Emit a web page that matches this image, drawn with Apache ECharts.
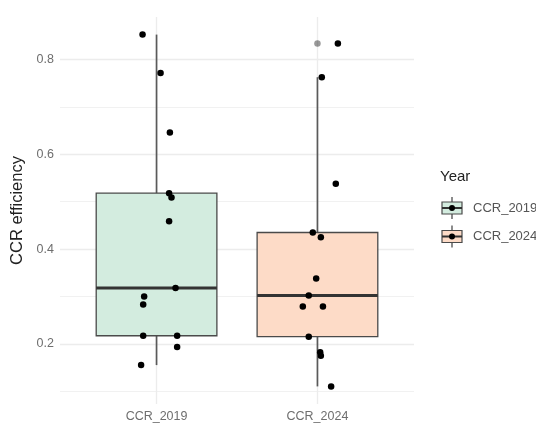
<!DOCTYPE html>
<html>
<head>
<meta charset="utf-8">
<script src="https://cdn.jsdelivr.net/npm/echarts@6/dist/echarts.min.js"></script>
<style>
  html, body { margin: 0; padding: 0; background: #ffffff; }
  #chart { width: 536px; height: 425px; }
</style>
</head>
<body>
<div id="chart"></div>
<script>
// ---- data ----
const categories = ['CCR_2019', 'CCR_2024'];
const values2019 = [0.853, 0.772, 0.646, 0.518, 0.509, 0.459, 0.318, 0.300, 0.283, 0.217, 0.217, 0.193, 0.155];
const values2024 = [0.834, 0.763, 0.538, 0.435, 0.425, 0.338, 0.302, 0.279, 0.279, 0.215, 0.182, 0.175, 0.110];
// horizontal jitter of each point, in category units
const jitter2019 = [-0.087, 0.025, 0.083, 0.078, 0.093, 0.078, 0.118, -0.077, -0.083, -0.083, 0.128, 0.128, -0.096];
const jitter2024 = [0.127, 0.027, 0.114, -0.029, 0.021, -0.008, -0.054, -0.091, 0.034, -0.054, 0.017, 0.021, 0.085];
const yMajorTicks = [0.2, 0.4, 0.6, 0.8];
const yMinorTicks = [0.1, 0.3, 0.5, 0.7];
const legendTitle = 'Year';
const yTitle = 'CCR efficiency';

// ---- styles ----
const FILLS = ['#d3ecdf', '#fddbc7'];
const BOX_WIDTH = 0.75;
const GRID_COLOR = '#ececec';
const FONT = '"Liberation Sans", Arial, sans-serif';

// ---- boxplot statistics (quantile type 7, 1.5 IQR whiskers) ----
function quantile(sorted, p) {
  const h = (sorted.length - 1) * p;
  const lo = Math.floor(h);
  const hiV = lo + 1 < sorted.length ? sorted[lo + 1] : sorted[lo];
  return sorted[lo] + (h - lo) * (hiV - sorted[lo]);
}
function boxStats(vals) {
  const s = vals.slice().sort((a, b) => a - b);
  const q1 = quantile(s, 0.25), med = quantile(s, 0.5), q3 = quantile(s, 0.75);
  const iqr = q3 - q1;
  const inside = s.filter(v => v >= q1 - 1.5 * iqr && v <= q3 + 1.5 * iqr);
  const outliers = s.filter(v => v < q1 - 1.5 * iqr || v > q3 + 1.5 * iqr);
  return { lo: inside[0], q1, med, q3, hi: inside[inside.length - 1], outliers };
}

const groups = [values2019, values2024];
const jitters = [jitter2019, jitter2024];
const stats = groups.map(boxStats);

const boxData = stats.map((st, i) => [i, st.lo, st.q1, st.med, st.q3, st.hi]);
const outlierData = [];
stats.forEach((st, i) => st.outliers.forEach(v => outlierData.push([i, v])));
const pointData = [];
groups.forEach((vals, i) => vals.forEach((v, k) => pointData.push([i + jitters[i][k], v])));

const allVals = values2019.concat(values2024);
const dMin = Math.min.apply(null, allVals), dMax = Math.max.apply(null, allVals);
const pad = (dMax - dMin) * 0.05;
const yMin = dMin - pad, yMax = dMax + pad;

const gridLines = []
  .concat(yMinorTicks.map(v => ({ yAxis: v, lineStyle: { color: '#f1f1f1', width: 1, type: 'solid' } })))
  .concat(yMajorTicks.map(v => ({ yAxis: v, lineStyle: { color: GRID_COLOR, width: 1.3, type: 'solid' } })))
  .concat(categories.map((c, i) => ({ xAxis: i, lineStyle: { color: GRID_COLOR, width: 1.3, type: 'solid' } })));

const chart = echarts.init(document.getElementById('chart'), null, { renderer: 'canvas' });

// legend keys drawn in the ggplot boxplot-key style
function legendKey(cy, fill) {
  const x0 = 442, w = 20, h = 12, cx = x0 + w / 2;
  return [
    { type: 'line', shape: { x1: cx, y1: cy - 11, x2: cx, y2: cy + 11 }, style: { stroke: '#5a5a5a', lineWidth: 1.4 } },
    { type: 'rect', shape: { x: x0, y: cy - h / 2, width: w, height: h }, style: { fill: fill, stroke: '#4a4a4a', lineWidth: 1.2 } },
    { type: 'line', shape: { x1: x0, y1: cy, x2: x0 + w, y2: cy }, style: { stroke: '#333', lineWidth: 2 } },
    { type: 'circle', shape: { cx: cx, cy: cy, r: 3 }, style: { fill: '#000' } }
  ];
}
const legendRows = categories.map((c, i) => {
  const cy = 208 + i * 28.5;
  return legendKey(cy, FILLS[i]).concat([{
    type: 'text', style: { x: 473, y: cy, text: c, fill: '#555', font: '13px ' + FONT, textVerticalAlign: 'middle' }
  }]);
});

chart.setOption({
  animation: false,
  backgroundColor: '#ffffff',
  grid: { left: 60, right: 122, top: 17, bottom: 21, containLabel: false },
  xAxis: {
    type: 'value', min: -0.6, max: 1.6,
    axisLine: { show: false }, axisTick: { show: false }, splitLine: { show: false },
    axisLabel: {
      margin: 6, color: '#6e6e6e', fontSize: 12.5, fontFamily: FONT,
      showMinLabel: false, showMaxLabel: false,
      formatter: v => {
        const i = Math.round(v);
        return (Math.abs(v - i) < 1e-6 && categories[i]) ? categories[i] : '';
      }
    }
  },
  yAxis: {
    type: 'value', min: yMin, max: yMax,
    name: yTitle, nameLocation: 'middle', nameGap: 34,
    nameTextStyle: { color: '#222', fontSize: 16.5, fontFamily: FONT },
    axisLine: { show: false }, axisTick: { show: false }, splitLine: { show: false },
    axisLabel: {
      margin: 6, color: '#6e6e6e', fontSize: 12.5, fontFamily: FONT,
      showMinLabel: false, showMaxLabel: false,
      formatter: v => {
        const hit = yMajorTicks.find(t => Math.abs(t - v) < 1e-6);
        return hit !== undefined ? hit.toFixed(1) : '';
      }
    }
  },
  series: [
    {
      type: 'line', data: [], z: 1, silent: true,
      markLine: { silent: true, symbol: 'none', z: 1, label: { show: false }, animation: false, data: gridLines }
    },
    {
      type: 'custom', z: 2, silent: true,
      encode: { x: 0, y: [1, 2, 3, 4, 5] },
      data: boxData,
      renderItem: (params, api) => {
        const c = api.value(0);
        const lo = api.value(1), q1 = api.value(2), med = api.value(3), q3 = api.value(4), hi = api.value(5);
        const half = BOX_WIDTH / 2;
        const tl = api.coord([c - half, q3]);
        const br = api.coord([c + half, q1]);
        const mL = api.coord([c - half, med]), mR = api.coord([c + half, med]);
        const pHi = api.coord([c, hi]), pQ3 = api.coord([c, q3]);
        const pQ1 = api.coord([c, q1]), pLo = api.coord([c, lo]);
        return {
          type: 'group',
          children: [
            { type: 'line', shape: { x1: pHi[0], y1: pHi[1], x2: pQ3[0], y2: pQ3[1] }, style: { stroke: '#5a5a5a', lineWidth: 1.7 } },
            { type: 'line', shape: { x1: pQ1[0], y1: pQ1[1], x2: pLo[0], y2: pLo[1] }, style: { stroke: '#5a5a5a', lineWidth: 1.7 } },
            { type: 'rect', shape: { x: tl[0], y: tl[1], width: br[0] - tl[0], height: br[1] - tl[1] },
              style: { fill: FILLS[params.dataIndex], stroke: '#4a4a4a', lineWidth: 1.3 } },
            { type: 'line', shape: { x1: mL[0], y1: mL[1], x2: mR[0], y2: mR[1] }, style: { stroke: '#333333', lineWidth: 3 } }
          ]
        };
      }
    },
    {
      type: 'scatter', z: 3, silent: true, data: outlierData,
      symbolSize: 6.5, itemStyle: { color: 'rgba(0,0,0,0.4)', opacity: 1 }
    },
    {
      type: 'scatter', z: 4, silent: true, data: pointData,
      symbolSize: 6.5, itemStyle: { color: '#000000', opacity: 1 }
    }
  ],
  graphic: [
    { type: 'text', style: { x: 440, y: 177, text: legendTitle, fill: '#222', font: '15px ' + FONT, textVerticalAlign: 'middle' } }
  ].concat(...legendRows)
});
</script>
</body>
</html>
